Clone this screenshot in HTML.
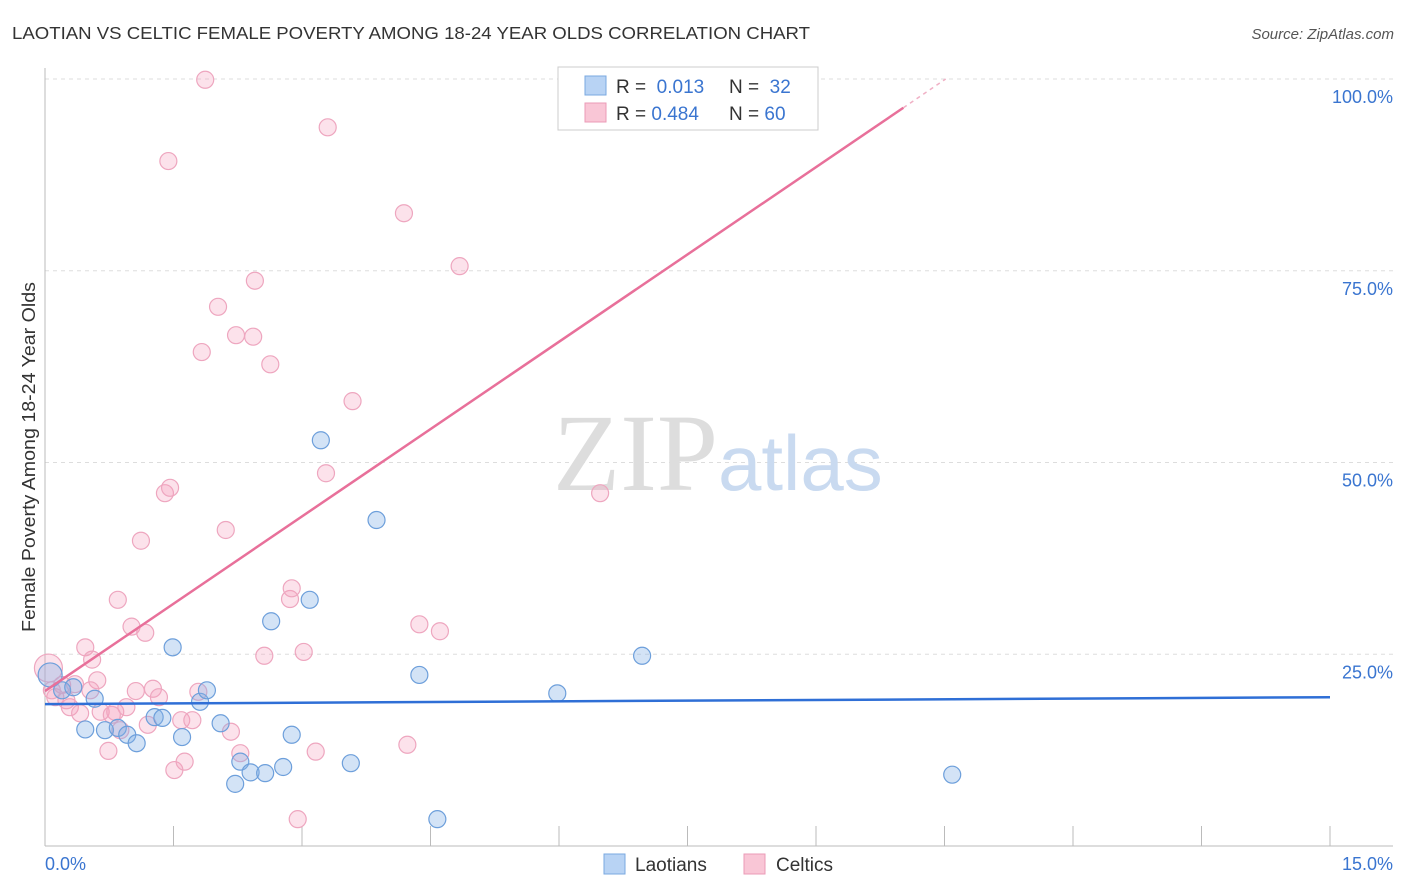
<!DOCTYPE html>
<html><head><meta charset="utf-8"><style>
body{margin:0;background:#fff;font-family:"Liberation Sans",sans-serif}
svg{display:block}
</style></head><body>
<svg id="chart" width="1406" height="892">
<text x="12" y="39" font-size="17.5" fill="#333" textLength="798" lengthAdjust="spacingAndGlyphs">LAOTIAN VS CELTIC FEMALE POVERTY AMONG 18-24 YEAR OLDS CORRELATION CHART</text>
<text x="1394" y="39" font-size="15" fill="#555" font-style="italic" text-anchor="end">Source: ZipAtlas.com</text>
<g id="grid"></g>
<text x="553" y="490" font-size="110" fill="#ddd" font-family="Liberation Serif,serif">ZIP</text>
<text x="718" y="490" font-size="78" fill="#c9daf0">atlas</text>
<g id="marks"></g>
<text x="35" y="457" font-size="18" fill="#333" text-anchor="middle" textLength="350" lengthAdjust="spacingAndGlyphs" transform="rotate(-90 35 457)">Female Poverty Among 18-24 Year Olds</text>
<g>
<rect x="558" y="67" width="260" height="63" fill="#fff" stroke="#ccc"/>
<rect x="585" y="76" width="21" height="19" fill="#b8d3f4" stroke="#7aa8e0"/>
<rect x="585" y="103" width="21" height="19" fill="#f9c6d6" stroke="#eb9bb7"/>
<text x="616" y="93" font-size="19" fill="#333">R = <tspan fill="#3a75d0">&#160;0.013</tspan></text>
<text x="729" y="93" font-size="19" fill="#333">N = <tspan fill="#3a75d0">&#160;32</tspan></text>
<text x="616" y="120" font-size="19" fill="#333">R = <tspan fill="#3a75d0">0.484</tspan></text>
<text x="729" y="120" font-size="19" fill="#333">N = <tspan fill="#3a75d0">60</tspan></text>
</g>
<g>
<rect x="604" y="854" width="21" height="20" fill="#b8d3f4" stroke="#7aa8e0"/>
<text x="635" y="871" font-size="19" fill="#333">Laotians</text>
<rect x="744" y="854" width="21" height="20" fill="#f9c6d6" stroke="#eb9bb7"/>
<text x="776" y="871" font-size="19" fill="#333">Celtics</text>
</g>
</svg>
<script>
const yTicks=[25,50,75,100];
const yTickLabels=["25.0%","50.0%","75.0%","100.0%"];
const xTicks=[0,1.5,3,4.5,6,7.5,9,10.5,12,13.5,15];
const laoX=[0.06,0.20,0.33,0.47,0.58,0.70,0.85,0.96,1.07,1.28,1.37,1.49,1.60,1.81,1.89,2.05,2.22,2.28,2.40,2.57,2.64,2.78,2.88,3.09,3.22,3.57,3.87,4.37,4.58,5.98,6.97,10.59];
const laoY=[22.3,20.3,20.7,15.2,19.2,15.1,15.4,14.5,13.4,16.8,16.7,25.9,14.2,18.8,20.3,16.0,8.1,11.0,9.6,9.5,29.3,10.3,14.5,32.1,52.9,10.8,42.5,22.3,3.5,19.9,24.8,9.3];
const celX=[0.04,0.12,0.20,0.29,0.35,0.41,0.47,0.55,0.61,0.65,0.74,0.82,0.85,0.88,0.95,1.01,1.06,1.12,1.17,1.20,1.26,1.33,1.40,1.44,1.46,1.51,1.59,1.63,1.72,1.79,1.83,1.87,2.02,2.11,2.17,2.23,2.28,2.43,2.45,2.56,2.63,2.86,2.88,2.95,3.02,3.16,3.28,3.30,3.59,4.19,4.23,4.37,4.61,4.84,6.48,8.52,0.08,0.25,0.53,0.78];
const celY=[23.2,19.4,21.0,18.1,21.1,17.3,25.9,24.3,21.6,17.5,12.4,17.5,32.1,15.1,18.1,28.6,20.2,39.8,27.8,15.8,20.5,19.4,46.0,89.3,46.7,9.9,16.4,11.0,16.4,20.1,64.4,99.9,70.3,41.2,14.9,66.6,12.1,66.4,73.7,24.8,62.8,32.2,33.6,3.5,25.3,12.3,48.6,93.7,58.0,82.5,13.2,28.9,28.0,75.6,46.0,100.0,20.3,19.0,20.3,17.1];
const laoTrend=[18.5,19.4];
const celTrend=[20.2,7.59];

const NS="http://www.w3.org/2000/svg";
const X=v=>45+v/15*1285;
const Y=v=>846-v/100*767;
function mk(tag,attrs,parent){const e=document.createElementNS(NS,tag);for(const k in attrs)e.setAttribute(k,attrs[k]);parent.appendChild(e);return e;}
const grid=document.getElementById('grid'),marks=document.getElementById('marks');
yTicks.forEach((t,i)=>{
  const l=mk('line',{x1:45,x2:1393,y1:Y(t),y2:Y(t),stroke:'#ddd','stroke-dasharray':'4,4'},grid);
  
  
  const tx=mk('text',{x:1393,y:Y(t)+24,'font-size':18,fill:'#3a75d0','text-anchor':'end'},grid);
  tx.textContent=yTickLabels[i];
  
  
});
const ax=mk('line',{x1:45,x2:1393,y1:846,y2:846,stroke:'#bbb'},grid);


const ay=mk('line',{x1:45,x2:45,y1:68,y2:846,stroke:'#bbb'},grid);


xTicks.forEach(t=>{
  const l=mk('line',{x1:X(t),x2:X(t),y1:826,y2:846,stroke:'#bbb'},grid);
  
  
});
const xl0=mk('text',{x:45,y:870,'font-size':18,fill:'#3a75d0'},grid);xl0.textContent='0.0%';


const xl1=mk('text',{x:1393,y:870,'font-size':18,fill:'#3a75d0','text-anchor':'end'},grid);xl1.textContent='15.0%';



celX.forEach((x,i)=>{
  const c=mk('circle',{cx:X(x),cy:Y(celY[i]),r:i==0?14:8.5,fill:'rgba(244,160,190,0.3)',stroke:'#eea6bf','stroke-width':1.2},marks);
  
  
});
laoX.forEach((x,i)=>{
  const c=mk('circle',{cx:X(x),cy:Y(laoY[i]),r:i==0?12:8.5,fill:'rgba(130,175,230,0.35)',stroke:'#6d9fdb','stroke-width':1.2},marks);
  
  
});
const lt=mk('line',{x1:X(0),y1:Y(laoTrend[0]),x2:X(15),y2:Y(laoTrend[1]),stroke:'#2f6fd6','stroke-width':2.5},marks);


const xEnd=(100-celTrend[0])/celTrend[1], xSolid=10.02;
const ct=mk('line',{x1:X(0),y1:Y(celTrend[0]),x2:X(xSolid),y2:Y(celTrend[0]+celTrend[1]*xSolid),stroke:'#e8709a','stroke-width':2.5},marks);


const cd=mk('line',{x1:X(xSolid),y1:Y(celTrend[0]+celTrend[1]*xSolid),x2:X(xEnd),y2:Y(100),stroke:'#f0b0c5','stroke-width':1.5,'stroke-dasharray':'4,4'},marks);


</script>
</body></html>
